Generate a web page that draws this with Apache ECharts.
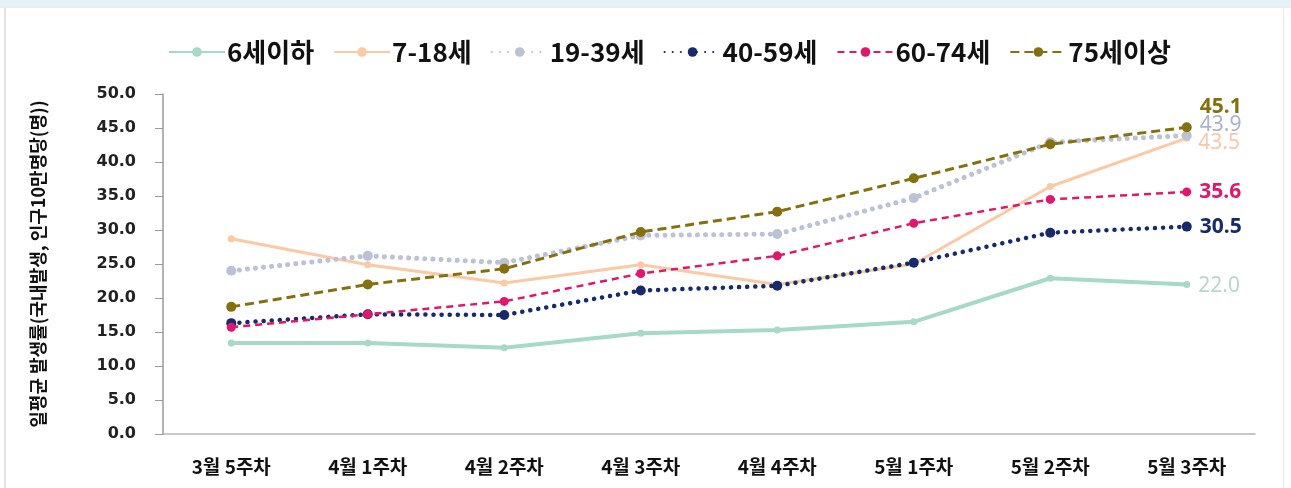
<!DOCTYPE html>
<html>
<head>
<meta charset="utf-8">
<script src="https://cdn.jsdelivr.net/npm/echarts@6/dist/echarts.min.js"></script>
<style>
  html, body { margin: 0; padding: 0; background: #ffffff; }
  #frame { position: absolute; left: 0; top: 0; width: 1291px; height: 488px; overflow: hidden; }
  #band { position: absolute; left: 0; top: 0; width: 1291px; height: 7px; background: #e4f2f4; border-bottom: 1px solid #e6e9ea; }
  #lborder { position: absolute; left: 4px; top: 8px; width: 2px; height: 480px; background: #e3e3e3; }
  #rborder { position: absolute; left: 1283px; top: 8px; width: 1px; height: 480px; background: #ebebeb; }
  #chart { position: absolute; left: 0; top: 0; width: 1291px; height: 488px; }
</style>
</head>
<body>
<div id="frame">
  <div id="band"></div>
  <div id="lborder"></div>
  <div id="rborder"></div>
  <div id="chart"></div>
</div>
<script>
const categories = ['3월 5주차', '4월 1주차', '4월 2주차', '4월 3주차', '4월 4주차', '5월 1주차', '5월 2주차', '5월 3주차'];
const seriesNames = ['6세이하', '7-18세', '19-39세', '40-59세', '60-74세', '75세이상'];
const age0_6   = [13.4, 13.4, 12.7, 14.8, 15.3, 16.5, 22.9, 22.0];
const age7_18  = [28.7, 24.9, 22.2, 24.9, 22.0, 25.0, 36.4, 43.5];
const age19_39 = [24.0, 26.2, 25.2, 29.2, 29.4, 34.7, 42.9, 43.9];
const age40_59 = [16.3, 17.6, 17.5, 21.1, 21.8, 25.2, 29.6, 30.5];
const age60_74 = [15.7, 17.6, 19.5, 23.6, 26.2, 31.0, 34.5, 35.6];
const age75up  = [18.7, 22.0, 24.3, 29.7, 32.7, 37.6, 42.6, 45.1];
const yTicks = ['0.0','5.0','10.0','15.0','20.0','25.0','30.0','35.0','40.0','45.0','50.0'];

const values = [age0_6, age7_18, age19_39, age40_59, age60_74, age75up];
const colors = ['#a6d9c6', '#fbc9a4', '#bcc2d6', '#172a6b', '#e0176b', '#85700f'];
const labelColors = ['#b9d6cc', '#f9c8a6', '#aab3cc', '#172a6b', '#e0176b', '#85700f'];
const lineTypes = ['solid', 'solid', [0.1, 8], [0.1, 8], [7, 5], [9, 5]];
const lineWidths = [4, 3, 5, 4.5, 2.5, 3];
const caps = ['butt', 'butt', 'round', 'round', 'butt', 'butt'];
const symbolSizes = [7, 7, 10, 10, 9, 10];
const labelOffsets = [[2, 2], [2, 5], [2, -10], [2, 0], [2, 0], [2, -20]];
const labelWeights = ['normal', 'normal', 'normal', 'bold', 'bold', 'bold'];

const series = seriesNames.map((name, i) => ({
  name: name,
  type: 'line',
  data: values[i].map((v, j) => j === values[i].length - 1 ? {
    value: v,
    label: {
      show: true,
      position: 'right',
      distance: 6,
      offset: labelOffsets[i],
      formatter: (p) => p.value.toFixed(1),
      color: labelColors[i],
      fontFamily: 'Noto Sans',
      fontWeight: labelWeights[i],
      fontSize: 21
    }
  } : v),
  symbol: 'circle',
  symbolSize: symbolSizes[i],
  showSymbol: true,
  lineStyle: { color: colors[i], width: lineWidths[i], type: lineTypes[i], cap: caps[i] },
  itemStyle: { color: colors[i] },
  z: 2 + i,
  animation: false
}));

const chart = echarts.init(document.getElementById('chart'));
chart.setOption({
  animation: false,
  grid: { left: 163, right: 36, top: 94, bottom: 54, containLabel: false },
  legend: {
    top: 34,
    left: 163,
    itemWidth: 56,
    itemHeight: 12,
    itemGap: 19,
    textStyle: { fontFamily: 'Noto Sans CJK KR', fontSize: 26, fontWeight: 'bold', color: '#111', padding: [0, 0, 0, -3] },
    data: seriesNames
  },
  xAxis: {
    type: 'category',
    data: categories,
    boundaryGap: true,
    axisLine: { lineStyle: { color: '#b5b5b5', width: 1.5 } },
    axisTick: { show: false },
    axisLabel: { margin: 23, fontFamily: 'Noto Sans CJK KR', fontSize: 19, fontWeight: 'bold', color: '#111' }
  },
  yAxis: {
    type: 'value',
    min: 0,
    max: 50,
    interval: 5,
    name: '일평균 발생률(국내발생, 인구10만명당(명))',
    nameLocation: 'middle',
    nameGap: 116,
    nameTextStyle: { fontFamily: 'Noto Sans CJK KR', fontSize: 18, fontWeight: 'bold', color: '#111' },
    axisLine: { show: true, lineStyle: { color: '#9a9a9a', width: 1.5 } },
    axisTick: { show: true, length: 8, lineStyle: { color: '#9a9a9a' } },
    splitLine: { show: false },
    axisLabel: {
      margin: 27,
      fontFamily: 'DejaVu Sans',
      fontSize: 16,
      fontWeight: 'bold',
      color: '#222',
      formatter: (v) => yTicks[Math.round(v / 5)]
    }
  },
  series: series
});
</script>
</body>
</html>
